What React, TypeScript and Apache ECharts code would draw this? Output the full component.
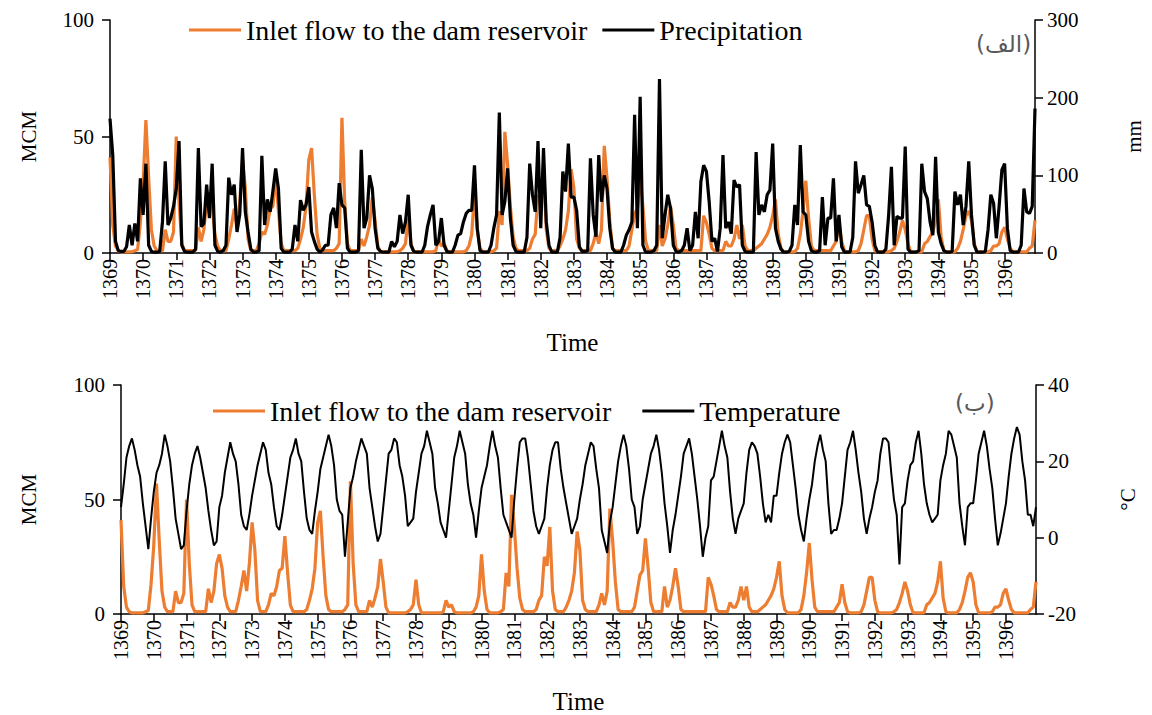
import React, { useEffect, useRef } from "react";
import * as echarts from "echarts";

const yearLabels = [
  "1369", "1370", "1371", "1372", "1373", "1374", "1375", "1376", "1377", "1378",
  "1379", "1380", "1381", "1382", "1383", "1384", "1385", "1386", "1387", "1388",
  "1389", "1390", "1391", "1392", "1393", "1394", "1395", "1396",
];

// monthly inlet flow (MCM), 12 values per year
const inflow = [
  41, 12, 3, 1, 0.5, 0.5, 0.5, 0.5, 0.5, 1, 1.5, 13,
  30, 57, 32, 10, 3, 1, 1, 1, 10, 5, 5, 9,
  50, 22, 4, 1, 1, 1, 1, 1, 11, 5, 10, 22,
  26, 20, 8, 3, 1, 1, 1, 6, 12, 19, 10, 22,
  40, 28, 6, 1, 1, 1, 4, 9, 8, 12, 19, 20,
  34, 18, 4, 1, 1, 1, 1, 1, 2, 6, 11, 20,
  40, 45, 25, 8, 2, 1, 1, 1, 1, 1, 2, 4,
  58, 22, 4, 1, 1, 1, 1, 6, 3, 7, 12, 24,
  14, 3, 0.5, 0.5, 0.5, 0.5, 0.5, 0.5, 0.5, 1, 2, 4,
  15, 4, 0.5, 0.5, 0.5, 0.5, 0.5, 0.5, 0.5, 0.5, 1, 6,
  3, 4, 1, 0.5, 0.5, 0.5, 0.5, 0.5, 0.5, 1, 3, 8,
  26, 10, 2, 0.5, 0.5, 0.5, 0.5, 1, 2, 18, 12, 52,
  38, 20, 7, 2, 1, 1, 1, 1, 2, 6, 8, 25,
  21, 38, 10, 2, 1, 1, 1, 3, 6, 10, 18, 36,
  28, 6, 2, 1, 1, 1, 1, 4, 9, 4, 10, 46,
  32, 14, 2, 1, 1, 1, 1, 1, 3, 10, 17, 19,
  33, 20, 5, 1, 1, 1, 1, 12, 3, 6, 12, 20,
  12, 2, 1, 1, 1, 1, 1, 1, 1, 1, 1, 16,
  13, 8, 2, 1, 1, 1, 1, 5, 3, 3, 6, 12,
  6, 12, 3, 1, 1, 1, 2, 3, 4, 6, 8, 11,
  16, 23, 8, 2, 0.5, 0.5, 0.5, 0.5, 0.5, 2, 8, 18,
  31, 15, 3, 1, 1, 1, 1, 1, 1, 1, 3, 5,
  13, 5, 1, 0.5, 0.5, 0.5, 0.5, 1, 4, 10, 16, 16,
  6, 1, 0.5, 0.5, 0.5, 0.5, 0.5, 1, 2, 5, 9, 14,
  10, 4, 0.5, 0.5, 0.5, 0.5, 0.5, 4, 5, 7, 9, 14,
  23, 7, 1, 0.5, 0.5, 0.5, 0.5, 2, 5, 10, 16, 18,
  14, 4, 0.5, 0.5, 0.5, 0.5, 0.5, 1, 3, 3, 4, 9,
  11, 6, 2, 0.5, 0.5, 0.5, 0.5, 0.5, 0.5, 2, 3, 14,
];

// monthly precipitation (mm)
const precipitation = [
  173, 126, 15, 3, 2, 2, 8, 36, 10, 38, 15, 96,
  49, 115, 10, 2, 1, 1, 2, 40, 118, 36, 45, 60,
  83, 144, 10, 2, 1, 1, 1, 5, 135, 34, 38, 88,
  45, 115, 10, 2, 1, 3, 10, 97, 75, 88, 27, 50,
  135, 53, 27, 5, 1, 1, 3, 125, 36, 69, 53, 80,
  109, 83, 6, 1, 1, 1, 5, 36, 15, 68, 55, 62,
  85, 27, 15, 5, 1, 4, 10, 10, 49, 58, 32, 90,
  62, 58, 6, 1, 1, 1, 3, 133, 32, 45, 100, 83,
  32, 6, 2, 1, 1, 1, 15, 8, 15, 49, 25, 40,
  75, 10, 2, 1, 1, 1, 10, 34, 49, 62, 10, 15,
  45, 10, 2, 1, 1, 10, 23, 25, 40, 51, 55, 55,
  113, 32, 3, 1, 1, 1, 10, 32, 49, 181, 49, 66,
  109, 45, 10, 2, 1, 1, 1, 20, 115, 75, 53, 144,
  32, 135, 40, 10, 1, 1, 1, 20, 105, 79, 141, 72,
  72, 55, 8, 2, 2, 3, 122, 49, 21, 126, 66, 100,
  83, 32, 6, 1, 1, 1, 10, 23, 30, 40, 178, 32,
  201, 10, 1, 1, 1, 3, 10, 224, 19, 49, 75, 58,
  10, 2, 1, 3, 10, 32, 3, 10, 53, 19, 92, 113,
  105, 66, 15, 19, 2, 32, 126, 32, 40, 25, 94, 85,
  88, 10, 2, 1, 1, 1, 130, 49, 62, 53, 75, 81,
  141, 32, 15, 5, 1, 1, 2, 10, 62, 36, 139, 53,
  49, 15, 3, 1, 1, 3, 72, 10, 45, 45, 96, 15,
  49, 8, 1, 1, 1, 20, 118, 77, 88, 100, 62, 60,
  40, 10, 1, 1, 1, 5, 49, 111, 10, 47, 45, 45,
  137, 5, 1, 1, 1, 3, 115, 79, 70, 40, 23, 124,
  27, 12, 3, 1, 1, 2, 79, 62, 75, 36, 60, 118,
  49, 10, 1, 1, 1, 2, 30, 75, 64, 19, 60, 107,
  115, 32, 3, 1, 1, 1, 10, 83, 53, 51, 60, 186,
];

// monthly mean temperature (°C)
const temperature = [
  8, 14, 21, 24, 26, 23, 19, 16, 9, 3, -3, 5,
  12, 17, 19, 22, 27, 24, 20, 13, 5, 1, -3, -2,
  7, 14, 19, 22, 24, 21, 17, 13, 7, 2, -2, -1,
  8, 11, 17, 21, 25, 22, 20, 14, 6, 3, 2, 6,
  11, 15, 19, 22, 25, 23, 17, 14, 8, 3, 2, 6,
  11, 16, 21, 23, 26, 22, 20, 12, 5, 2, 1, 7,
  12, 18, 21, 24, 27, 24, 19, 10, 7, 6, -5, 4,
  13, 16, 20, 23, 26, 24, 22, 13, 8, 3, -1, 1,
  8, 15, 22, 23, 26, 25, 19, 16, 11, 3, 4, 5,
  12, 17, 22, 24, 28, 25, 22, 13, 9, 4, 2, 0,
  7, 14, 21, 24, 28, 25, 22, 14, 9, 6, 0, 7,
  13, 16, 19, 24, 28, 24, 21, 13, 6, 4, 2, 0,
  10, 18, 25, 26, 26, 21, 14, 7, 3, 1, 3, 5,
  13, 19, 23, 25, 25, 18, 13, 9, 5, 1, 3, 5,
  10, 14, 19, 22, 25, 24, 18, 13, 2, -1, -4, 4,
  8, 14, 20, 24, 27, 24, 18, 10, 8, 1, 3, 10,
  14, 18, 22, 24, 27, 23, 17, 9, 3, -4, 2, 6,
  11, 16, 22, 24, 26, 22, 16, 10, 3, -5, 0, 3,
  15, 16, 20, 24, 28, 24, 21, 12, 5, 1, 5, 7,
  9, 17, 23, 25, 24, 22, 16, 9, 4, 6, 4, 11,
  11, 17, 22, 25, 27, 25, 19, 13, 6, 2, -1, 5,
  10, 14, 20, 24, 27, 23, 20, 9, 1, 2, 2, 5,
  9, 16, 23, 25, 28, 23, 17, 12, 5, 1, 5, 8,
  12, 15, 22, 26, 26, 25, 17, 10, 6, -7, 8, 9,
  15, 19, 20, 25, 28, 22, 14, 9, 6, 4, 5, 6,
  15, 19, 22, 28, 27, 24, 21, 9, 3, -2, 8, 9,
  9, 15, 22, 25, 28, 24, 18, 13, 5, -2, 1, 5,
  9, 16, 22, 26, 29, 27, 20, 15, 6, 6, 3, 8,
];

const months = yearLabels.flatMap((y) =>
  Array.from({ length: 12 }, (_, m) => `${y}-${m + 1}`)
);

const FLOW = "Inlet flow to the dam reservoir";
const PREC = "Precipitation";
const TEMP = "Temperature";
const ORANGE = "#ED7D31";
const SERIF = "Liberation Serif";

export default function App() {
  const ref = useRef<HTMLDivElement>(null);

  useEffect(() => {
    if (!ref.current) return;
    const chart = echarts.init(ref.current, undefined, { renderer: "svg" });
    const yearTick = (idx: number) => idx % 12 === 0;

    const xAxisBase = (gridIndex: number, gap: number) => ({
      type: "category",
      gridIndex,
      data: months,
      boundaryGap: false,
      axisLine: { onZero: false, lineStyle: { color: "#000", width: 1.5 } },
      axisTick: { interval: yearTick, length: 7, lineStyle: { color: "#000", width: 1.5 } },
      axisLabel: {
        interval: yearTick,
        rotate: 90,
        margin: 6,
        formatter: (v: string) => v.slice(0, 4),
        color: "#000",
        fontSize: 20,
        fontFamily: SERIF,
      },
      splitLine: { show: false },
      name: "Time",
      nameLocation: "middle",
      nameGap: gap,
      nameTextStyle: { color: "#000", fontSize: 25, fontFamily: SERIF },
    });

    const yAxisBase = (
      gridIndex: number,
      position: string,
      min: number,
      max: number,
      interval: number,
      name: string,
      gap: number,
      margin: number
    ) => ({
      type: "value",
      gridIndex,
      position,
      min,
      max,
      interval,
      axisLine: { show: true, onZero: false, lineStyle: { color: "#000", width: 1.5 } },
      axisTick: { show: true, length: 8, lineStyle: { color: "#000", width: 1.5 } },
      axisLabel: { color: "#000", fontSize: 21, fontFamily: SERIF, margin },
      splitLine: { show: false },
      name,
      nameLocation: "middle",
      nameGap: gap,
      nameTextStyle: { color: "#000", fontSize: 21, fontFamily: SERIF },
    });

    const legendItem = (name: string) => ({ name, icon: "rect" });

    chart.setOption({
      animation: false,
      backgroundColor: "#fff",
      textStyle: { fontFamily: SERIF },
      grid: [
        { left: 110, right: 104, top: 20, height: 233 },
        { left: 121, right: 116, top: 385, height: 232 },
      ],
      legend: [
        {
          left: 184,
          top: 11,
          itemWidth: 52,
          itemHeight: 3,
          itemGap: 15,
          data: [legendItem(FLOW), legendItem(PREC)],
          textStyle: { color: "#000", fontSize: 28, fontFamily: SERIF },
        },
        {
          left: 208,
          top: 392,
          itemWidth: 52,
          itemHeight: 3,
          itemGap: 31,
          data: [legendItem(FLOW), legendItem(TEMP)],
          textStyle: { color: "#000", fontSize: 28, fontFamily: SERIF },
        },
      ],
      xAxis: [xAxisBase(0, 77), xAxisBase(1, 75)],
      yAxis: [
        yAxisBase(0, "left", 0, 100, 50, "MCM", 71, 16),
        yAxisBase(0, "right", 0, 300, 100, "mm", 88, 12),
        yAxisBase(1, "left", 0, 100, 50, "MCM", 82, 16),
        yAxisBase(1, "right", -20, 40, 20, "°C", 81, 12),
      ],
      series: [
        {
          name: FLOW,
          type: "line",
          xAxisIndex: 0,
          yAxisIndex: 0,
          data: inflow,
          symbol: "none",
          lineStyle: { color: ORANGE, width: 3.2 },
          itemStyle: { color: ORANGE },
          z: 2,
        },
        {
          name: PREC,
          type: "line",
          xAxisIndex: 0,
          yAxisIndex: 1,
          data: precipitation,
          symbol: "none",
          lineStyle: { color: "#000", width: 3.2 },
          itemStyle: { color: "#000" },
          z: 3,
        },
        {
          name: FLOW,
          type: "line",
          xAxisIndex: 1,
          yAxisIndex: 2,
          data: inflow,
          symbol: "none",
          lineStyle: { color: ORANGE, width: 3.2 },
          itemStyle: { color: ORANGE },
          z: 2,
        },
        {
          name: TEMP,
          type: "line",
          xAxisIndex: 1,
          yAxisIndex: 3,
          data: temperature,
          symbol: "none",
          lineStyle: { color: "#000", width: 2 },
          itemStyle: { color: "#000" },
          z: 3,
        },
      ],
      graphic: [
        {
          type: "text",
          left: 976,
          top: 32,
          style: {
            text: "(الف)",
            fill: "#595959",
            fontSize: 23,
            fontFamily: "DejaVu Sans",
          },
        },
        {
          type: "text",
          left: 955,
          top: 391,
          style: {
            text: "(ب)",
            fill: "#595959",
            fontSize: 23,
            fontFamily: "DejaVu Sans",
          },
        },
      ],
    });

    return () => chart.dispose();
  }, []);

  return (
    <div
      ref={ref}
      style={{ position: "absolute", left: 0, top: 0, width: 1152, height: 715, background: "#fff" }}
    />
  );
}
